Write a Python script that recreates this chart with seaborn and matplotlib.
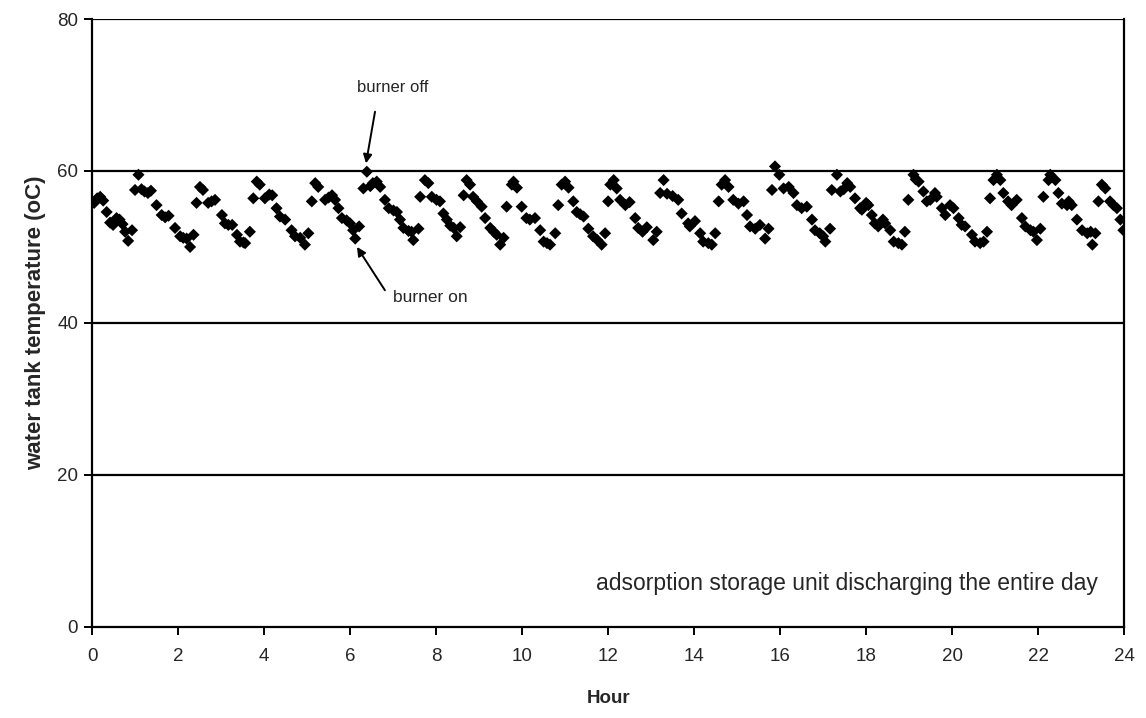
import matplotlib
matplotlib.use("Agg")
import matplotlib.pyplot as plt
import seaborn as sns
import pandas as pd

# Hourly water tank temperature samples over one day
hours = [
    0.05, 0.12, 0.19, 0.26, 0.34, 0.42, 0.49, 0.57, 0.64, 0.71, 0.77, 0.84, 0.93,
    1.00, 1.08, 1.15, 1.22, 1.30, 1.37, 1.50, 1.62, 1.70, 1.78, 1.93, 2.05, 2.12,
    2.20, 2.28, 2.36, 2.43, 2.51, 2.58, 2.70, 2.78, 2.86, 3.02, 3.09, 3.17, 3.26,
    3.37, 3.44, 3.52, 3.56, 3.67, 3.75, 3.83, 3.90, 4.02, 4.12, 4.19, 4.29, 4.37,
    4.49, 4.64, 4.72, 4.84, 4.95, 5.03, 5.11, 5.19, 5.26, 5.42, 5.50, 5.58, 5.65,
    5.73, 5.81, 5.92, 6.00, 6.07, 6.12, 6.21, 6.31, 6.39, 6.47, 6.53, 6.62, 6.70,
    6.81, 6.90, 7.01, 7.09, 7.16, 7.24, 7.36, 7.43, 7.47, 7.59, 7.63, 7.74, 7.82,
    7.90, 8.01, 8.09, 8.17, 8.25, 8.33, 8.41, 8.48, 8.56, 8.64, 8.71, 8.79, 8.86,
    8.95, 9.06, 9.14, 9.26, 9.34, 9.41, 9.49, 9.57, 9.64, 9.76, 9.80, 9.88, 9.99,
    10.10, 10.18, 10.30, 10.42, 10.50, 10.58, 10.65, 10.77, 10.84, 10.92, 11.00,
    11.08, 11.19, 11.27, 11.35, 11.43, 11.54, 11.65, 11.75, 11.85, 11.93, 12.00,
    12.05, 12.13, 12.20, 12.28, 12.40, 12.50, 12.63, 12.70, 12.80, 12.90, 13.05,
    13.13, 13.21, 13.29, 13.37, 13.50, 13.63, 13.71, 13.86, 13.90, 14.02, 14.14,
    14.21, 14.33, 14.41, 14.49, 14.57, 14.64, 14.72, 14.80, 14.91, 15.03, 15.15,
    15.23, 15.30, 15.42, 15.53, 15.65, 15.73, 15.81, 15.88, 15.98, 16.08, 16.20,
    16.31, 16.39, 16.50, 16.62, 16.74, 16.81, 16.92, 17.00, 17.05, 17.16, 17.20,
    17.32, 17.40, 17.48, 17.56, 17.63, 17.74, 17.86, 17.90, 18.00, 18.05, 18.13,
    18.20, 18.28, 18.39, 18.44, 18.56, 18.64, 18.75, 18.83, 18.90, 18.98, 19.10,
    19.15, 19.22, 19.33, 19.41, 19.49, 19.60, 19.64, 19.76, 19.84, 19.95, 20.03,
    20.15, 20.22, 20.30, 20.46, 20.53, 20.65, 20.73, 20.81, 20.88, 20.96, 21.04,
    21.12, 21.19, 21.30, 21.38, 21.50, 21.62, 21.70, 21.82, 21.89, 21.97, 22.05,
    22.12, 22.24, 22.28, 22.40, 22.47, 22.55, 22.67, 22.71, 22.78, 22.90, 23.02,
    23.14, 23.22, 23.26, 23.33, 23.40, 23.48, 23.56, 23.67, 23.75, 23.83, 23.91,
    23.98,
]

temperature = [
    55.8, 56.4, 56.6, 56.1, 54.6, 53.2, 52.9, 53.8, 53.6, 53.0, 52.0, 50.8, 52.2,
    57.5, 59.5, 57.6, 57.3, 57.1, 57.4, 55.5, 54.2, 53.9, 54.1, 52.5, 51.4, 51.2,
    51.1, 50.0, 51.6, 55.8, 57.9, 57.5, 55.8, 56.0, 56.2, 54.2, 53.1, 52.9, 52.9,
    51.6, 50.7, 50.6, 50.5, 52.0, 56.4, 58.6, 58.2, 56.4, 56.9, 56.8, 55.1, 54.0,
    53.6, 52.2, 51.4, 51.2, 50.3, 51.8, 56.0, 58.4, 57.9, 56.2, 56.5, 56.8, 56.2,
    55.1, 53.8, 53.5, 53.1, 52.2, 51.1, 52.7, 57.7, 59.9, 58.0, 58.4, 58.6, 57.9,
    56.2, 55.1, 54.8, 54.6, 53.6, 52.5, 52.1, 52.0, 50.9, 52.4, 56.6, 58.8, 58.4,
    56.6, 56.2, 56.0, 54.4, 53.6, 52.8, 52.5, 51.4, 52.6, 56.8, 58.8, 58.2, 56.6,
    56.0, 55.3, 53.8, 52.5, 52.0, 51.6, 50.3, 51.2, 55.3, 58.2, 58.6, 57.8, 55.3,
    53.8, 53.6, 53.8, 52.2, 50.7, 50.5, 50.3, 51.8, 55.5, 58.2, 58.6,
    57.8, 56.0, 54.6, 54.3, 54.0, 52.4, 51.4, 50.9, 50.3, 51.8, 56.0,
    58.2, 58.8, 57.7, 56.2, 55.5, 55.9, 53.8, 52.5, 52.0, 52.6, 50.9,
    52.0, 57.1, 58.8, 57.0, 56.7, 56.2, 54.4, 53.1, 52.7, 53.4, 51.8,
    50.7, 50.5, 50.3, 51.8, 56.0, 58.2, 58.8, 57.9, 56.2, 55.7, 56.0,
    54.2, 52.7, 52.4, 52.9, 51.1, 52.4, 57.5, 60.6, 59.5, 57.7, 57.9,
    57.1, 55.5, 55.1, 55.3, 53.6, 52.2, 51.8, 51.4, 50.7, 52.4, 57.5,
    59.5, 57.3, 57.6, 58.4, 57.9, 56.4, 55.1, 54.9, 55.8, 55.5, 54.2,
    53.1, 52.7, 53.6, 53.1, 52.2, 50.7, 50.5, 50.3, 52.0, 56.2, 59.5,
    58.9, 58.6, 57.3, 56.0, 56.2, 57.1, 56.6, 55.1, 54.2, 55.5, 55.1,
    53.8, 52.9, 52.7, 51.6, 50.7, 50.5, 50.7, 52.0, 56.4, 58.8, 59.5,
    58.8, 57.1, 56.0, 55.5, 56.2, 53.8, 52.7, 52.2, 52.0, 50.9, 52.4,
    56.6, 58.8, 59.5, 58.8, 57.1, 55.7, 55.5, 56.0, 55.5, 53.6, 52.2,
    51.8, 52.0, 50.3, 51.8, 56.0, 58.2, 57.7, 56.0, 55.5, 55.1, 53.6,
    52.2,
]

x_ticks = list(range(0, 25, 2))
y_ticks = [0, 20, 40, 60, 80]

df = pd.DataFrame({"Hour": hours, "temp": temperature})

sns.set_theme(style="white")
plt.rcParams["font.family"] = ["Liberation Sans", "DejaVu Sans"]

fig = plt.figure(figsize=(11.46, 7.18), dpi=100)
ax = fig.add_axes([0.0803, 0.127, 0.9007, 0.8465])

# horizontal reference lines at every major y tick
for yv in y_ticks[1:]:
    ax.axhline(yv, color="black", lw=1.6, zorder=1)

sns.scatterplot(data=df, x="Hour", y="temp", marker="D", s=38, color="black",
                edgecolor="none", ax=ax, zorder=3, legend=False)

ax.set_xlim(0, 24)
ax.set_ylim(0, 80)
ax.set_xticks(x_ticks)
ax.set_yticks(y_ticks)
ax.tick_params(axis="both", direction="out", length=6, width=1.4, color="black",
               labelsize=13.5, bottom=True, left=True)
ax.tick_params(axis="x", pad=9)
ax.tick_params(axis="y", pad=4)

for side in ["left", "bottom", "right"]:
    ax.spines[side].set_visible(True)
    ax.spines[side].set_color("black")
    ax.spines[side].set_linewidth(1.6)
ax.spines["top"].set_visible(False)

ax.set_xlabel("Hour", fontsize=13.5, fontweight="bold", labelpad=18)
ax.set_ylabel("water tank temperature (oC)", fontsize=16, fontweight="bold", labelpad=8)

arrow_style = dict(arrowstyle="-|>", color="black", lw=1.4, mutation_scale=13,
                   shrinkA=0, shrinkB=0)

ax.text(7.0, 71.0, "burner off", ha="center", va="center", fontsize=12)
ax.annotate("", xy=(6.37, 61.0), xytext=(6.58, 67.8), arrowprops=arrow_style)

ax.text(7.86, 43.4, "burner on", ha="center", va="center", fontsize=12.5)
ax.annotate("", xy=(6.16, 50.0), xytext=(6.81, 44.3), arrowprops=arrow_style)

ax.text(23.38, 5.7, "adsorption storage unit discharging the entire day",
        ha="right", va="center", fontsize=16.5)

fig.savefig("out.png", dpi=100)
